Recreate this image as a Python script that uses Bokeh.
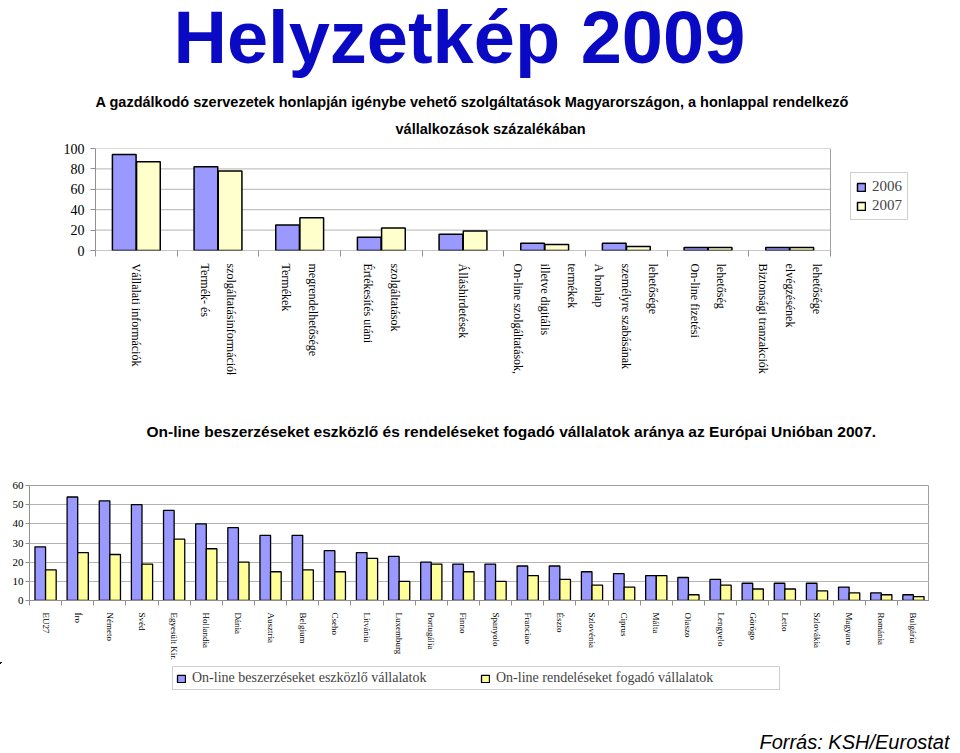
from bokeh.plotting import figure
from bokeh.models import (ColumnDataSource, FixedTicker, Legend, LegendItem,
                          Title, Range1d, Label)
from bokeh.transform import dodge
from bokeh.embed import file_html
from bokeh.resources import INLINE

# ---------------- data: top chart ----------------
services = [
    "Vállalati információk",
    "Termék- és\nszolgáltatásinformációk",
    "Termékek\nmegrendelhetősége",
    "Értékesítés utáni\nszolgáltatások",
    "Álláshirdetések",
    "On-line szolgáltatások,\nilletve digitális\ntermékek",
    "A honlap\nszemélyre szabásának\nlehetősége",
    "On-line fizetési\nlehetőség",
    "Biztonsági tranzakciók\nelvégzésének\nlehetősége",
]
share_2006 = [94, 82, 25, 13, 16, 7, 7, 3, 3]
share_2007 = [87, 78, 32, 22, 19, 6, 4, 3, 3]
years = ["2006", "2007"]
top_ticks = [0, 20, 40, 60, 80, 100]

# ---------------- data: bottom chart ----------------
countries = ["EU27", "Íro", "Németo", "Svéd", "Egyesült Kir.", "Hollandia",
             "Dánia", "Ausztria", "Belgium", "Cseho", "Litvánia", "Luxemburg",
             "Portugália", "Finno", "Spanyolo", "Franciao", "Észto",
             "Szlovénia", "Ciprus", "Málta", "Olaszo", "Lengyelo", "Görögo",
             "Letto", "Szlovákia", "Magyaro", "Románia", "Bulgária"]
purchasing = [28, 54, 52, 50, 47, 40, 38, 34, 34, 26, 25, 23, 20, 19, 19, 18,
              18, 15, 14, 13, 12, 11, 9, 9, 9, 7, 4, 3]
receiving = [16, 25, 24, 19, 32, 27, 20, 15, 16, 15, 22, 10, 19, 15, 10, 13,
             11, 8, 7, 13, 3, 8, 6, 6, 5, 4, 3, 2]
series_names = ["On-line beszerzéseket eszközlő vállalatok",
                "On-line rendeléseket fogadó vállalatok"]
bottom_ticks = [0, 10, 20, 30, 40, 50, 60]

main_title = "Helyzetkép 2009"
sub1 = "A gazdálkodó szervezetek honlapján igénybe vehető szolgáltatások Magyarországon, a honlappal rendelkező"
sub2 = "vállalkozások százalékában"
eu_title = "On-line beszerzéseket eszközlő és rendeléseket fogadó vállalatok aránya az Európai Unióban 2007."
source_text = "Forrás: KSH/Eurostat"

BLUE = "#9999FF"
YEL_TOP = "#FFFFCC"
YEL_BOT = "#FFFF99"
GRID = "#B4B4B4"
AXIS = "#909090"
BORDER = "#A0A0A0"
SERIF = "Liberation Serif"
SANS = "Liberation Sans"


def style_axes(p, ticks, ysize, ystand):
    p.xaxis.major_label_orientation = "vertical"
    p.xaxis.major_label_text_font = SERIF
    p.xaxis.major_label_text_color = "black"
    p.xaxis.major_tick_line_color = None
    p.xaxis.major_tick_out = 0
    p.xaxis.major_tick_in = 0
    p.xaxis.minor_tick_out = 6
    p.xaxis.minor_tick_in = 0
    p.xaxis.minor_tick_line_color = AXIS
    p.xaxis.axis_line_color = AXIS
    p.yaxis.ticker = FixedTicker(ticks=ticks)
    p.yaxis.major_label_text_font = SERIF
    p.yaxis.major_label_text_color = "black"
    p.yaxis.major_label_text_font_size = ysize
    p.yaxis.major_tick_out = 5
    p.yaxis.major_tick_in = 0
    p.yaxis.major_tick_line_color = AXIS
    p.yaxis.minor_tick_line_color = None
    p.yaxis.axis_line_color = AXIS
    p.yaxis.major_label_standoff = ystand
    p.ygrid.grid_line_color = GRID
    p.xgrid.grid_line_color = None
    p.outline_line_color = BORDER
    p.title.visible = False


# ================= figure 1 =================
# the frame is wider than the chart so that the legend fits at its right
n1 = len(services)
CHART_W, FRAME_W = 735, 820
src1 = ColumnDataSource(dict(x=[i + 0.5 for i in range(n1)],
                             a=share_2006, b=share_2007))
p1 = figure(frame_width=FRAME_W, frame_height=102, output_backend="svg",
            toolbar_location=None, x_range=Range1d(0, n1 * FRAME_W / CHART_W),
            y_range=Range1d(0, top_ticks[-1]), min_border=0,
            margin=(-22, 0, -7, 60))
style_axes(p1, top_ticks, "14px", 6)
p1.ygrid.grid_line_color = None
p1.outline_line_color = None
p1.xaxis.axis_line_color = None
# grid lines, bottom axis line and chart border limited to the chart width
p1.segment(x0=0, x1=n1, y0=top_ticks[1:], y1=top_ticks[1:],
           line_color=GRID, line_width=1)
p1.segment(x0=[0, n1], x1=[n1, n1], y0=[0, 0], y1=[0, top_ticks[-1]],
           line_color=[AXIS, BORDER], line_width=1)
r1 = p1.vbar(x=dodge("x", -0.148, range=p1.x_range), top="a", width=0.29,
             source=src1, fill_color=BLUE, line_color="black", line_width=1.5)
r2 = p1.vbar(x=dodge("x", 0.148, range=p1.x_range), top="b", width=0.29,
             source=src1, fill_color=YEL_TOP, line_color="black", line_width=1.5)

# each line of a category label becomes its own vertical tick label
tick_pos, tick_txt = [], []
for i, s in enumerate(services):
    lines = s.split("\n")
    m = len(lines)
    for j, t in enumerate(lines):
        tick_pos.append(round(i + 0.5 + (j - (m - 1) / 2) * 0.33, 4))
        tick_txt.append(t)
p1.xaxis.ticker = FixedTicker(ticks=tick_pos, minor_ticks=list(range(n1 + 1)))
p1.xaxis.major_label_overrides = dict(zip(tick_pos, tick_txt))
p1.xaxis.major_label_text_font_size = "12px"
p1.xaxis.major_label_standoff = 7

p1.add_layout(Legend(items=[LegendItem(label=years[0], renderers=[r1]),
                            LegendItem(label=years[1], renderers=[r2])],
                     location=(755, 30), margin=0, padding=5, spacing=2,
                     glyph_width=10, glyph_height=10,
                     label_text_font=SERIF, label_text_font_size="15px",
                     label_height=14, label_standoff=6,
                     border_line_color=BORDER))

p1.add_layout(Title(text=sub2, align="left", offset=300, standoff=24,
                    text_font=SANS, text_font_size="14.5px", text_color="black",
                    text_font_style="bold"), "above")
p1.add_layout(Title(text=sub1, align="left", offset=0, standoff=-6,
                    text_font=SANS, text_font_size="14.5px", text_color="black",
                    text_font_style="bold"), "above")
p1.add_layout(Title(text=main_title, align="left", offset=78, standoff=31,
                    text_font=SANS, text_font_size="74px",
                    text_font_style="bold", text_color="#0A0AC4"), "above")

# ================= figure 2 =================
n2 = len(countries)
src2 = ColumnDataSource(dict(x=[i + 0.5 for i in range(n2)],
                             a=purchasing, b=receiving))
p2 = figure(frame_width=900, frame_height=115, output_backend="svg",
            toolbar_location=None, x_range=Range1d(0, n2),
            y_range=Range1d(0, bottom_ticks[-1]), min_border=0,
            margin=(0, 0, 0, 9))
style_axes(p2, bottom_ticks, "11px", 2)
p2.yaxis.major_tick_out = 4
p2.xaxis.minor_tick_out = 5
q1 = p2.vbar(x=dodge("x", -0.165, range=p2.x_range), top="a", width=0.33,
             source=src2, fill_color=BLUE, line_color="black", line_width=1.3)
q2 = p2.vbar(x=dodge("x", 0.165, range=p2.x_range), top="b", width=0.33,
             source=src2, fill_color=YEL_BOT, line_color="black", line_width=1.3)
c_pos = [i + 0.5 for i in range(n2)]
p2.xaxis.ticker = FixedTicker(ticks=c_pos, minor_ticks=list(range(n2 + 1)))
p2.xaxis.major_label_overrides = dict(zip(c_pos, countries))
p2.xaxis.major_label_text_font_size = "9px"
p2.xaxis.major_label_standoff = 7

p2.add_layout(Title(text=eu_title, align="left", offset=117, standoff=92,
                    text_font=SANS, text_font_size="15.5px", text_color="black",
                    text_font_style="bold"), "above")

# ---- strip below the bottom chart: its legend and the source note ----
# strip coordinates lie far away from the chart data, so no bar is drawn here
X0, Y0 = 2000, -1000
L2 = figure(frame_width=950, frame_height=95, output_backend="svg",
            toolbar_location=None, x_axis_location=None, y_axis_location=None,
            x_range=Range1d(X0, X0 + 950), y_range=Range1d(Y0, Y0 + 95),
            min_border=0)
L2.grid.visible = False
L2.outline_line_color = None
L2.title.visible = False
e1 = L2.vbar(x="x", top="a", width=0.33, source=src2, fill_color=BLUE,
             line_color="black", line_width=1.3)
e2 = L2.vbar(x="x", top="b", width=0.33, source=src2, fill_color=YEL_BOT,
             line_color="black", line_width=1.3)
L2.add_layout(Legend(items=[LegendItem(label=series_names[0], renderers=[e1]),
                            LegendItem(label=series_names[1], renderers=[e2])],
                     orientation="horizontal", location=(172, 67), margin=0,
                     padding=3, spacing=8, glyph_width=10, glyph_height=9,
                     label_text_font=SERIF, label_text_font_size="14px",
                     label_height=12, label_width=280, label_standoff=6,
                     border_line_color=BORDER))
L2.add_layout(Label(x=X0 + 949, y=Y0 + 16, text=source_text, text_align="right",
                    text_baseline="middle", text_font=SANS,
                    text_font_size="20px", text_font_style="italic",
                    text_color="black"))

open("out.html", "w").write(file_html([p1, p2, L2], INLINE))
